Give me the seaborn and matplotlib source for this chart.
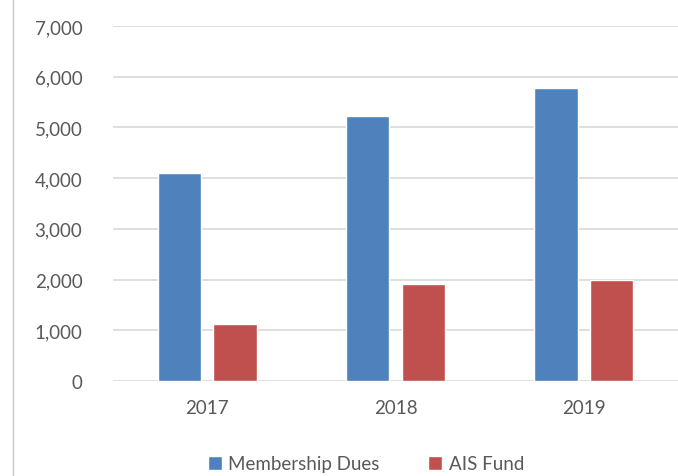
import pandas as pd
import numpy as np
import matplotlib
matplotlib.use("Agg")
import matplotlib.pyplot as plt
import seaborn as sns
from matplotlib.ticker import FuncFormatter, MultipleLocator

# data
years = ["2017", "2018", "2019"]
membership_dues = [4110, 5220, 5770]
ais_fund = [1120, 1910, 1990]
series_names = ["Membership Dues", "AIS Fund"]

df = pd.DataFrame({
    "Year": years * 2,
    "Series": [series_names[0]] * 3 + [series_names[1]] * 3,
    "Value": membership_dues + ais_fund,
})

sns.set_theme(style="white")
plt.rcParams["font.family"] = ["Lato", "DejaVu Sans"]

fig = plt.figure(figsize=(6.78, 4.77), dpi=100)
ax = fig.add_axes([113 / 678, 1 - 382 / 477, 565 / 678, 355 / 477])

sns.barplot(data=df, x="Year", y="Value", hue="Series",
            palette=["#4f81bd", "#c0504d"], width=0.59, gap=0.22,
            saturation=1, ax=ax, legend=True)

ax.set_ylim(0, 7000)
ax.set_xlim(-0.5, 2.5)
ax.yaxis.set_major_locator(MultipleLocator(1000))
ax.yaxis.set_major_formatter(FuncFormatter(lambda v, p: f"{int(v):,}"))
ax.grid(axis="y", color="#d9d9d9", linewidth=1.2)
ax.set_axisbelow(True)
for s in ax.spines.values():
    s.set_visible(False)
ax.set_xlabel("")
ax.set_ylabel("")
ax.tick_params(axis="both", length=0, labelsize=13.5, colors="#595959")
ax.tick_params(axis="y", pad=22)
ax.tick_params(axis="x", pad=13)

# legend along the bottom
ax.legend(loc="center", bbox_to_anchor=(366 / 678, 1 - 465 / 477),
          bbox_transform=fig.transFigure, ncol=2, frameon=False,
          fontsize=13.5, labelcolor="#595959", handlelength=0.75,
          handleheight=0.75, handletextpad=0.35, columnspacing=2.6)

# thin ruler line at the left edge of the screenshot
fig.add_artist(plt.Line2D([13 / 678, 13 / 678], [0, 1], color="#c8c8c8",
                          linewidth=1, transform=fig.transFigure))

fig.savefig("out.png", dpi=100)
